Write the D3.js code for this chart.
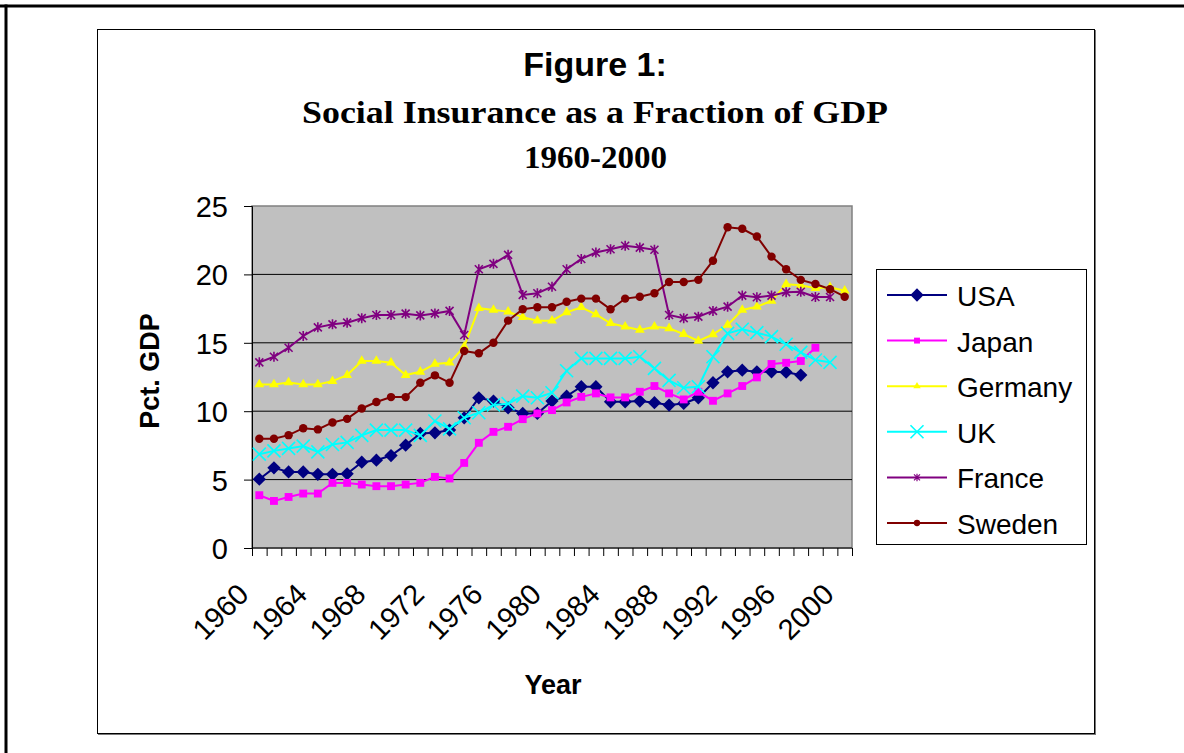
<!DOCTYPE html>
<html>
<head>
<meta charset="utf-8">
<script src="https://cdn.jsdelivr.net/npm/d3@7"></script>
<style>
  html, body { margin: 0; background: #fff; overflow: hidden; }
  svg { display: block; }
  svg text { font-family: "Liberation Sans", Arial, sans-serif; }
</style>
</head>
<body>
<div id="chart"></div>
<script>
const years = d3.range(1960, 2001);
const tickYears = [1960, 1964, 1968, 1972, 1976, 1980, 1984, 1988, 1992, 1996, 2000];
const yTicks = [0, 5, 10, 15, 20, 25];

const usa = [5.03, 5.86, 5.56, 5.56, 5.39, 5.39, 5.42, 6.27, 6.42, 6.76, 7.52, 8.37, 8.42, 8.62, 9.52, 10.98, 10.74, 10.25, 9.84, 9.84, 10.74, 11.1, 11.79, 11.79, 10.69, 10.69, 10.74, 10.62, 10.45, 10.57, 10.98, 12.08, 12.88, 13.0, 12.88, 12.88, 12.85, 12.64, null, null, null];
const japan = [3.86, 3.44, 3.73, 3.98, 3.98, 4.76, 4.76, 4.64, 4.52, 4.52, 4.64, 4.76, 5.2, 5.08, 6.22, 7.69, 8.49, 8.86, 9.42, 9.84, 10.08, 10.64, 11.05, 11.3, 11.01, 11.01, 11.42, 11.84, 11.3, 10.86, 11.42, 10.76, 11.3, 11.84, 12.47, 13.45, 13.54, 13.67, 14.64, null, null];
const germany = [11.96, 11.96, 12.1, 11.96, 11.96, 12.2, 12.64, 13.67, 13.67, 13.54, 12.64, 12.88, 13.45, 13.54, 14.71, 17.53, 17.4, 17.28, 16.87, 16.62, 16.62, 17.23, 17.6, 17.08, 16.43, 16.18, 15.94, 16.18, 16.06, 15.64, 15.13, 15.62, 16.3, 17.4, 17.64, 18.06, 19.28, 19.2, 18.99, 19.06, 18.81];
const uk = [6.86, 7.1, 7.28, 7.45, 7.03, 7.57, 7.72, 8.23, 8.62, 8.62, 8.62, 8.23, 9.28, 8.71, 9.52, 9.89, 10.45, 10.55, 11.1, 10.98, 11.35, 12.96, 13.86, 13.86, 13.86, 13.86, 13.98, 13.13, 12.25, 11.71, 11.79, 13.98, 15.69, 15.99, 15.74, 15.45, 14.89, 14.3, 13.74, 13.57, null];
const france = [13.57, 13.98, 14.64, 15.5, 16.13, 16.35, 16.47, 16.8, 17.03, 17.03, 17.13, 17.0, 17.15, 17.33, 15.57, 20.38, 20.77, 21.43, 18.5, 18.62, 19.1, 20.38, 21.13, 21.6, 21.84, 22.09, 21.96, 21.8, 17.03, 16.8, 16.91, 17.33, 17.64, 18.45, 18.33, 18.45, 18.7, 18.73, 18.35, 18.35, null];
const sweden = [7.98, 7.98, 8.25, 8.76, 8.67, 9.18, 9.44, 10.2, 10.67, 11.03, 11.03, 12.08, 12.62, 12.08, 14.4, 14.23, 15.0, 16.62, 17.45, 17.6, 17.6, 18.0, 18.23, 18.23, 17.45, 18.23, 18.37, 18.62, 19.45, 19.45, 19.6, 21.0, 23.45, 23.33, 22.77, 21.3, 20.38, 19.6, 19.3, 18.92, 18.37];

const seriesNames = ['USA', 'Japan', 'Germany', 'UK', 'France', 'Sweden'];
const seriesValues = [usa, japan, germany, uk, france, sweden];

const width = 1184;
const height = 753;

// marker shapes, one per series
const markers = {
  USA: { color: '#000080', path: d3.symbol(d3.symbolSquare, 88)(), rotate: 45, fill: true },
  Japan: { color: '#ff00ff', path: d3.symbol(d3.symbolSquare, 62)(), rotate: 0, fill: true },
  Germany: { color: '#ffff00', path: d3.symbol(d3.symbolTriangle, 42)(), rotate: 0, fill: true },
  UK: { color: '#00ffff', path: 'M-6.5,-6.5L6.5,6.5M-6.5,6.5L6.5,-6.5', rotate: 0, fill: false },
  France: { color: '#800080', path: 'M-4,-4L4,4M-4,4L4,-4M0,-5L0,5', rotate: 0, fill: false },
  Sweden: { color: '#800000', path: d3.symbol(d3.symbolCircle, 56)(), rotate: 0, fill: true }
};

const svg = d3.select('#chart')
  .append('svg')
  .attr('width', width)
  .attr('height', height)

// page frame
svg.append('line').attr('x1', 0).attr('x2', width).attr('y1', 6).attr('y2', 6)
  .attr('stroke', '#000').attr('stroke-width', 3)
svg.append('line').attr('x1', 6).attr('x2', 6).attr('y1', 4.5).attr('y2', height)
  .attr('stroke', '#000').attr('stroke-width', 3)

// chart box with a light shadow
svg.append('rect').attr('x', 98.5).attr('y', 30.5).attr('width', 997).attr('height', 704)
  .attr('fill', 'none').attr('stroke', '#777').attr('stroke-width', 1)
svg.append('rect').attr('x', 97.5).attr('y', 29.5).attr('width', 997).attr('height', 704)
  .attr('fill', '#fff').attr('stroke', '#000').attr('stroke-width', 1)

// titles
svg.append('text').attr('x', 595).attr('y', 76).attr('text-anchor', 'middle')
  .style('font-size', '34px').style('font-weight', 'bold').text('Figure 1:')
svg.append('text').attr('x', 302).attr('y', 123)
  .attr('textLength', 586).attr('lengthAdjust', 'spacingAndGlyphs')
  .style('font-family', '"Liberation Serif", "DejaVu Serif", serif')
  .style('font-size', '32px').style('font-weight', 'bold').text('Social Insurance as a Fraction of GDP')
svg.append('text').attr('x', 524).attr('y', 168)
  .attr('textLength', 143).attr('lengthAdjust', 'spacingAndGlyphs')
  .style('font-family', '"Liberation Serif", "DejaVu Serif", serif')
  .style('font-size', '32px').style('font-weight', 'bold').text('1960-2000')

const plotLeft = 252, plotRight = 852, plotTop = 206, plotBottom = 548;

const xScale = d3.scaleBand().domain(years).range([plotLeft, plotRight]).padding(0)
const xEdges = d3.scaleLinear().domain([0, years.length]).range([plotLeft, plotRight])
const yScale = d3.scaleLinear().domain([0, 25]).range([plotBottom, plotTop])

svg.append('rect').attr('x', plotLeft).attr('y', plotTop)
  .attr('width', plotRight - plotLeft).attr('height', plotBottom - plotTop)
  .attr('fill', '#c0c0c0').attr('stroke', '#808080').attr('stroke-width', 1.5)

// gridlines
svg.append('g')
  .selectAll('line')
  .data(yTicks.filter(d => d > 0 && d < 25))
  .enter()
  .append('line')
  .attr('x1', plotLeft).attr('x2', plotRight)
  .attr('y1', d => yScale(d)).attr('y2', d => yScale(d))
  .attr('stroke', '#000').attr('stroke-width', 1)

let yAxis = d3.axisLeft(yScale).tickValues(yTicks).tickSize(8).tickPadding(16)
const gy = svg.append('g').attr('transform', `translate(${plotLeft}, 0)`).call(yAxis)
gy.selectAll('text').style('font-size', '29px').attr('fill', '#000').attr('dy', '0.36em')
gy.selectAll('line, path').attr('stroke', '#000')

let xAxis = d3.axisBottom(xEdges).tickValues(d3.range(years.length + 1)).tickSize(8).tickFormat('')
const gx = svg.append('g').attr('transform', `translate(0, ${plotBottom})`).call(xAxis)
gx.select('.domain').attr('d', `M${plotLeft},0H${plotRight}`)
gx.selectAll('line, path').attr('stroke', '#000')

svg.append('g')
  .selectAll('text')
  .data(tickYears)
  .enter()
  .append('text')
  .attr('transform', d => `translate(${xScale(d) + xScale.bandwidth() / 2 - 9}, 596) rotate(-45)`)
  .attr('text-anchor', 'end')
  .style('font-size', '29px')
  .text(d => d)

// axis titles
svg.append('text')
  .attr('transform', 'translate(159, 371) rotate(-90)')
  .attr('text-anchor', 'middle')
  .style('font-size', '27px').style('font-weight', 'bold')
  .text('Pct. GDP')

svg.append('text').attr('x', 553).attr('y', 694).attr('text-anchor', 'middle')
  .style('font-size', '27px').style('font-weight', 'bold').text('Year')

// series
const line = d3.line()
  .defined(d => d.v != null)
  .x(d => xScale(d.year) + xScale.bandwidth() / 2)
  .y(d => yScale(d.v))

seriesNames.forEach((name, k) => {
  const m = markers[name];
  const pts = years.map((year, i) => ({ year: year, v: seriesValues[k][i] }));
  const g = svg.append('g').attr('class', 'series');
  g.append('path')
    .attr('d', line(pts))
    .attr('fill', 'none')
    .attr('stroke', m.color)
    .attr('stroke-width', 2)
  g.selectAll('path.mark')
    .data(pts.filter(d => d.v != null))
    .enter()
    .append('path')
    .attr('class', 'mark')
    .attr('d', m.path)
    .attr('transform', d => `translate(${xScale(d.year) + xScale.bandwidth() / 2}, ${yScale(d.v)}) rotate(${m.rotate})`)
    .attr('fill', m.fill ? m.color : 'none')
    .attr('stroke', m.color)
    .attr('stroke-width', m.fill ? 0 : 1.6)
});

// legend
svg.append('rect').attr('x', 876.5).attr('y', 269.5).attr('width', 210).attr('height', 275)
  .attr('fill', '#fff').attr('stroke', '#000').attr('stroke-width', 1)

let legend = svg.selectAll('.legend')
  .data(seriesNames)
  .enter()
  .append('g')
  .attr('class', 'legend')
  .attr('transform', (d, i) => `translate(0, ${295 + i * 45.6})`)

legend.append('line')
  .attr('x1', 887).attr('x2', 947)
  .attr('stroke', d => markers[d].color).attr('stroke-width', 2)

legend.append('path')
  .attr('d', d => markers[d].path)
  .attr('transform', d => `translate(917, 0) rotate(${markers[d].rotate}) scale(${d === 'USA' || d === 'UK' ? 1 : 0.75})`)
  .attr('fill', d => markers[d].fill ? markers[d].color : 'none')
  .attr('stroke', d => markers[d].color)
  .attr('stroke-width', d => markers[d].fill ? 0 : 1.6)

legend.append('text')
  .attr('x', 957).attr('y', 11)
  .style('font-size', '28px')
  .text(d => d)
</script>
</body>
</html>
